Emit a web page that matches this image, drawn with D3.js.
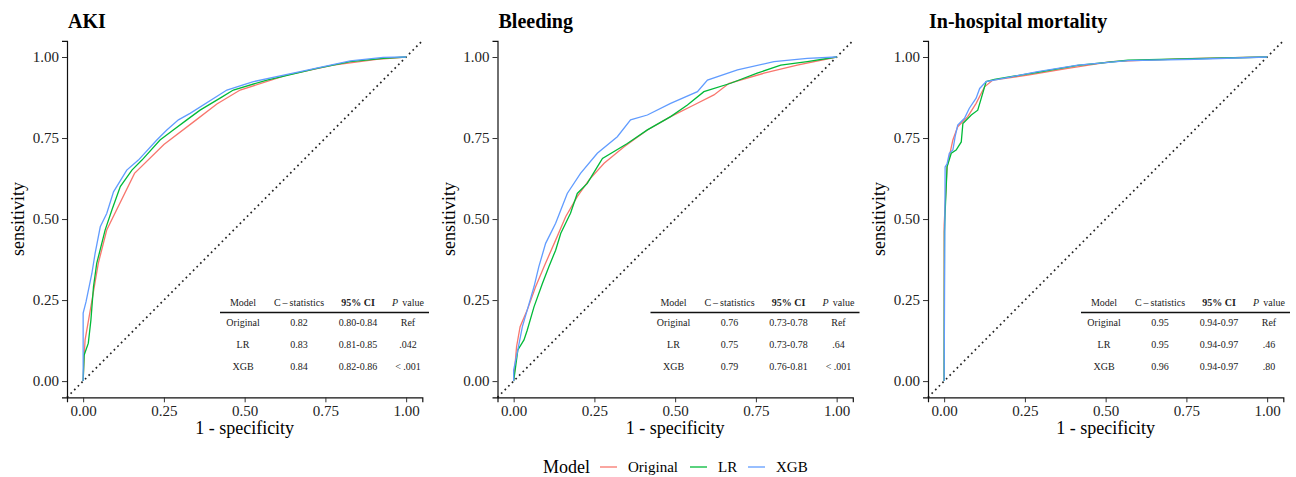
<!DOCTYPE html>
<html>
<head>
<meta charset="utf-8">
<script src="https://cdn.jsdelivr.net/npm/d3@7"></script>
<style>
  body { margin: 0; background: #fff; }
  svg { display: block; font-family: "Liberation Serif", "DejaVu Serif", serif; }
</style>
</head>
<body>
<svg id="chart" width="1296" height="477"></svg>
<script>
// ROC points: [1 - specificity, sensitivity]
var akiOriginal = [[0,0],[0.003,0.075],[0.006,0.127],[0.024,0.23],[0.047,0.364],[0.073,0.466],[0.159,0.641],[0.25,0.73],[0.35,0.806],[0.414,0.855],[0.486,0.898],[0.63,0.944],[0.774,0.975],[0.909,0.993],[1,1]];
var akiLR = [[0,0],[0.003,0.08],[0.016,0.117],[0.024,0.188],[0.032,0.291],[0.042,0.363],[0.068,0.466],[0.089,0.528],[0.115,0.60],[0.151,0.651],[0.182,0.682],[0.238,0.744],[0.279,0.775],[0.321,0.806],[0.362,0.836],[0.424,0.873],[0.465,0.898],[0.569,0.929],[0.724,0.965],[0.827,0.986],[0.929,0.996],[1,1]];
var akiXGB = [[0,0],[0,0.21],[0.009,0.245],[0.027,0.332],[0.037,0.394],[0.053,0.476],[0.073,0.517],[0.094,0.584],[0.135,0.651],[0.171,0.682],[0.228,0.744],[0.259,0.775],[0.295,0.806],[0.331,0.826],[0.445,0.898],[0.527,0.924],[0.672,0.955],[0.827,0.988],[0.929,0.999],[1,1]];

var bleedOriginal = [[0,0],[0.009,0.106],[0.02,0.168],[0.042,0.219],[0.068,0.291],[0.094,0.353],[0.13,0.435],[0.161,0.507],[0.197,0.569],[0.233,0.62],[0.28,0.672],[0.342,0.723],[0.414,0.775],[0.486,0.816],[0.558,0.852],[0.62,0.883],[0.667,0.919],[0.775,0.95],[0.878,0.975],[1,1]];
var bleedLR = [[0,0],[0.006,0.044],[0.013,0.096],[0.032,0.127],[0.042,0.157],[0.063,0.229],[0.089,0.301],[0.109,0.353],[0.13,0.404],[0.146,0.456],[0.176,0.518],[0.197,0.579],[0.228,0.61],[0.259,0.661],[0.275,0.687],[0.352,0.733],[0.414,0.775],[0.486,0.816],[0.538,0.852],[0.589,0.893],[0.672,0.919],[0.754,0.95],[0.827,0.975],[0.909,0.986],[1,1]];
var bleedXGB = [[0,0],[0,0.034],[0.013,0.096],[0.027,0.168],[0.042,0.219],[0.063,0.291],[0.078,0.353],[0.099,0.425],[0.13,0.487],[0.146,0.528],[0.166,0.579],[0.207,0.641],[0.259,0.703],[0.321,0.754],[0.362,0.806],[0.414,0.821],[0.486,0.857],[0.569,0.893],[0.60,0.929],[0.693,0.96],[0.806,0.986],[0.909,0.996],[1,1]];

var mortOriginal = [[0,0],[0,0.48],[0.009,0.661],[0.027,0.744],[0.042,0.785],[0.073,0.816],[0.099,0.857],[0.125,0.908],[0.151,0.929],[0.259,0.944],[0.383,0.965],[0.517,0.986],[0.75,0.995],[1,1]];
var mortLR = [[0,0],[0.001,0.46],[0.003,0.52],[0.009,0.661],[0.022,0.703],[0.037,0.713],[0.053,0.738],[0.058,0.795],[0.084,0.821],[0.104,0.836],[0.115,0.873],[0.13,0.924],[0.156,0.931],[0.29,0.953],[0.414,0.974],[0.569,0.99],[1,1]];
var mortXGB = [[0,0],[0.003,0.661],[0.009,0.67],[0.016,0.703],[0.027,0.713],[0.034,0.754],[0.042,0.79],[0.063,0.811],[0.078,0.842],[0.099,0.873],[0.11,0.903],[0.13,0.924],[0.207,0.939],[0.29,0.955],[0.414,0.975],[0.569,0.989],[0.775,0.993],[1,1]];

var models = ["Original", "LR", "XGB"];
var colors = ["#F8766D", "#00BA38", "#619CFF"];
var ticks = [0, 0.25, 0.5, 0.75, 1];

// table text
var tableHead = ["Model", "C\u2009\u2013\u2009statistics", "95% CI", "P"];
var akiStats = [["Original","0.82","0.80-0.84","Ref"],["LR","0.83","0.81-0.85",".042"],["XGB","0.84","0.82-0.86","< .001"]];
var bleedStats = [["Original","0.76","0.73-0.78","Ref"],["LR","0.75","0.73-0.78",".64"],["XGB","0.79","0.76-0.81","< .001"]];
var mortStats = [["Original","0.95","0.94-0.97","Ref"],["LR","0.95","0.94-0.97",".46"],["XGB","0.96","0.94-0.97",".80"]];

var panels = [
  {title: "AKI", left: 67, curves: [akiOriginal, akiLR, akiXGB], stats: akiStats},
  {title: "Bleeding", left: 497.5, curves: [bleedOriginal, bleedLR, bleedXGB], stats: bleedStats},
  {title: "In-hospital mortality", left: 928, curves: [mortOriginal, mortLR, mortXGB], stats: mortStats}
];

var plotTop = 40.8, width = 355.3, height = 356.5;
var svg = d3.select("#chart");

var x = d3.scaleLinear().domain([-0.05, 1.05]).range([0, width]);
var y = d3.scaleLinear().domain([-0.05, 1.05]).range([height, 0]);
var line = d3.line().x(function(d) { return x(d[0]); }).y(function(d) { return y(d[1]); });

var colX = [176, 232, 291, 341];

panels.forEach(function(p) {
  var g = svg.append("g").attr("transform", "translate(" + p.left + "," + plotTop + ")");

  svg.append("text")
    .attr("x", p.left + 1).attr("y", 28)
    .attr("font-size", 20).attr("font-weight", "bold")
    .text(p.title);

  // diagonal reference
  g.append("path")
    .datum([[-0.05, -0.05], [1.05, 1.05]])
    .attr("d", line)
    .attr("stroke", "#222").attr("stroke-width", 1.7)
    .attr("stroke-dasharray", "1.7 3.4").attr("fill", "none");

  p.curves.forEach(function(c, i) {
    g.append("path")
      .datum(c)
      .attr("d", line)
      .attr("fill", "none")
      .attr("stroke", colors[i])
      .attr("stroke-width", 1.3);
  });

  var xa = g.append("g").attr("transform", "translate(0," + height + ")")
    .call(d3.axisBottom(x).tickValues(ticks).tickFormat(d3.format(".2f")).tickSizeOuter(0).tickSize(5).tickPadding(3));
  var ya = g.append("g")
    .call(d3.axisLeft(y).tickValues(ticks).tickFormat(d3.format(".2f")).tickSizeOuter(0).tickSize(5).tickPadding(3));
  [xa, ya].forEach(function(a) {
    a.select(".domain").attr("stroke", "#111").attr("stroke-width", 1.2);
    a.selectAll(".tick line").attr("stroke", "#333").attr("stroke-width", 1);
    a.selectAll(".tick text").attr("font-size", 15).attr("fill", "#222")
      .attr("font-family", "Liberation Serif");
  });

  g.append("text")
    .attr("x", width / 2).attr("y", 434 - plotTop)
    .attr("text-anchor", "middle").attr("font-size", 18)
    .text("1 - specificity");
  g.append("text")
    .attr("transform", "translate(-43," + (height / 2) + ") rotate(-90)")
    .attr("text-anchor", "middle").attr("font-size", 18)
    .text("sensitivity");

  // stats table
  var t = g.append("g").attr("font-size", 10).attr("fill", "#222");
  var headY = 306 - plotTop;
  tableHead.forEach(function(h, j) {
    var tx = t.append("text").attr("x", colX[j]).attr("y", headY).attr("text-anchor", "middle");
    if (j === 2) tx.attr("font-weight", "bold").text(h);
    else if (j === 3) {
      tx.append("tspan").attr("font-style", "italic").text(h);
      tx.append("tspan").attr("dx", 4).text("value");
    } else tx.text(h);
  });
  t.append("line")
    .attr("x1", 153).attr("x2", 362)
    .attr("y1", 312.5 - plotTop).attr("y2", 312.5 - plotTop)
    .attr("stroke", "#111").attr("stroke-width", 1.5);
  p.stats.forEach(function(row, r) {
    row.forEach(function(v, j) {
      t.append("text")
        .attr("x", colX[j]).attr("y", 326 + r * 22 - plotTop)
        .attr("text-anchor", "middle").text(v);
    });
  });
});

// legend
var lg = svg.append("g");
lg.append("text").attr("x", 543).attr("y", 473).attr("font-size", 18).text("Model");
var legX = [600, 690, 748];
models.forEach(function(m, i) {
  lg.append("line")
    .attr("x1", legX[i]).attr("x2", legX[i] + 17)
    .attr("y1", 467).attr("y2", 467)
    .attr("stroke", colors[i]).attr("stroke-width", 1.3);
  lg.append("text")
    .attr("x", legX[i] + 28).attr("y", 472)
    .attr("font-size", 15).text(m);
});
</script>
</body>
</html>
